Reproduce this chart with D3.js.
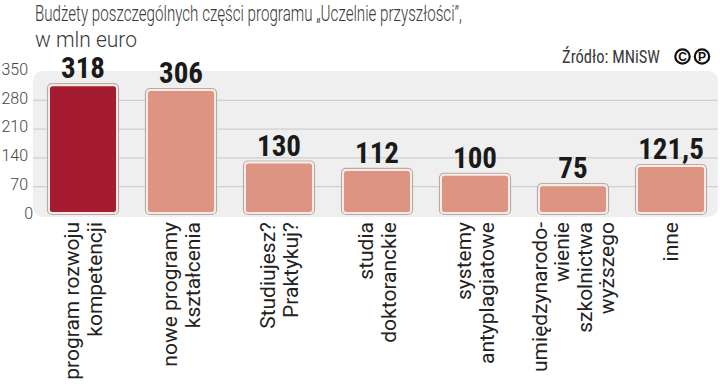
<!DOCTYPE html>
<html><head><meta charset="utf-8">
<script src="https://cdn.jsdelivr.net/npm/d3@7"></script>
<style>
html,body{margin:0;padding:0;background:#fff;}
svg{display:block;}
</style></head>
<body>
<script>
const categories = [
  ["program rozwoju","kompetencji"],
  ["nowe programy","kształcenia"],
  ["Studiujesz?","Praktykuj?"],
  ["studia","doktoranckie"],
  ["systemy","antyplagiatowe"],
  ["umiędzynarodo-","wienie","szkolnictwa","wyższego"],
  ["inne"]
];
const values = [318, 306, 130, 112, 100, 75, 121.5];
const valueLabels = ["318","306","130","112","100","75","121,5"];
const yTicks = [0, 70, 140, 210, 280, 350];
const gridTicks = [70, 140, 210, 280];
const titleLines = ["Budżety poszczególnych części programu „Uczelnie przyszłości”,", "w mln euro"];
const sourceText = "Źródło: MNiSW";

const W = 720, H = 384;
const svg = d3.select("body").append("svg").attr("width", W).attr("height", H);

const light = "Roboto,'Liberation Sans',sans-serif";
const narrow = "'Liberation Sans Narrow','Roboto Condensed','Liberation Sans',sans-serif";
const sans = "'Liberation Sans',Arial,sans-serif";

// title
svg.append("text").attr("x", 35).attr("y", 20.5)
  .attr("font-family", light).attr("font-weight", 300).attr("font-size", 22).attr("fill", "#3a3a3a")
  .attr("textLength", 427).attr("lengthAdjust", "spacingAndGlyphs")
  .text(titleLines[0]);
svg.append("text").attr("x", 35).attr("y", 46.5)
  .attr("font-family", light).attr("font-weight", 300).attr("font-size", 22).attr("fill", "#3a3a3a")
  .attr("textLength", 102).attr("lengthAdjust", "spacingAndGlyphs")
  .text(titleLines[1]);

// source
svg.append("text").attr("x", 562).attr("y", 63)
  .attr("font-family", narrow).attr("font-size", 18).attr("fill", "#3a3a3a")
  .attr("textLength", 98).attr("lengthAdjust", "spacingAndGlyphs")
  .text(sourceText);
// CC-P icon
const icon = svg.append("g");
[["C", 682.5], ["P", 702]].forEach(([t, cx]) => {
  icon.append("circle").attr("cx", cx).attr("cy", 56.5).attr("r", 7.2)
    .attr("fill", "#fff").attr("stroke", "#111").attr("stroke-width", 2.2);
  icon.append("text").attr("x", cx).attr("y", 61).attr("text-anchor", "middle")
    .attr("font-family", sans).attr("font-weight", "bold").attr("font-size", 12)
    .attr("fill", "#111").text(t);
});

// scales
const x = d3.scaleBand().domain(d3.range(values.length)).range([34, 720])
  .paddingInner(0.2857).paddingOuter(0.1429);
const y = d3.scaleLinear().domain([0, 350]).range([215, 71]);

// panel
svg.append("rect").attr("x", 33).attr("y", y(350)).attr("width", 718 - 33)
  .attr("height", 217 - y(350)).attr("rx", 10).attr("fill", "#efefef");

// gridlines
const grid = svg.append("g").attr("transform", "translate(33,0)")
  .call(d3.axisRight(y).tickValues(gridTicks).tickSize(718 - 33).tickFormat(""));
grid.select(".domain").remove();
grid.selectAll("line").attr("stroke", "#cfcfcf").attr("stroke-width", 1.2);

// y axis labels
const yAx = svg.append("g").attr("transform", "translate(28,0)")
  .call(d3.axisLeft(y).tickValues(yTicks).tickSize(0).tickPadding(0));
yAx.select(".domain").remove();
yAx.selectAll("text").attr("font-family", light).attr("font-weight", 300).attr("font-size", 16).attr("fill", "#444")
  .attr("dy", "0.2em")
  .attr("dx", d => d === 0 ? 5 : 0);

// bars
const bars = svg.append("g");
values.forEach((v, i) => {
  const bx = x(i), bw = x.bandwidth(), top = y(v), bot = y(0) - 1;
  bars.append("rect").attr("x", bx - 0.5).attr("y", top - 0.5)
    .attr("width", bw + 1).attr("height", bot - top + 1).attr("rx", 4.5)
    .attr("fill", "none").attr("stroke", "#b9aaa5").attr("stroke-width", 1.2);
  bars.append("rect").attr("x", bx + 1).attr("y", top + 1)
    .attr("width", bw - 2).attr("height", bot - top - 2).attr("rx", 3.5)
    .attr("fill", i === 0 ? "#a51c30" : "#de9482")
    .attr("stroke", "#f8ebe6").attr("stroke-width", 2);
});

// value labels
svg.append("g").selectAll("text").data(values).join("text")
  .attr("x", (d, i) => x(i) + x.bandwidth() / 2)
  .attr("y", d => y(d) - 6)
  .attr("text-anchor", "middle")
  .attr("font-family", narrow).attr("font-weight", "bold").attr("font-size", 29)
  .attr("fill", "#1a1a1a")
  .text((d, i) => valueLabels[i]);

// category labels (rotated)
const pitch = 22.5;
categories.forEach((lines, i) => {
  const cx = x(i) + x.bandwidth() / 2 + 1.5;
  const n = lines.length;
  lines.forEach((ln, k) => {
    const lx = cx + (k - (n - 1) / 2) * pitch + 6;
    svg.append("text")
      .attr("transform", `translate(${lx},222) rotate(-90)`)
      .attr("text-anchor", "end")
      .attr("font-family", light).attr("font-size", 21).attr("fill", "#222")
      .text(ln);
  });
});
</script>
</body></html>
